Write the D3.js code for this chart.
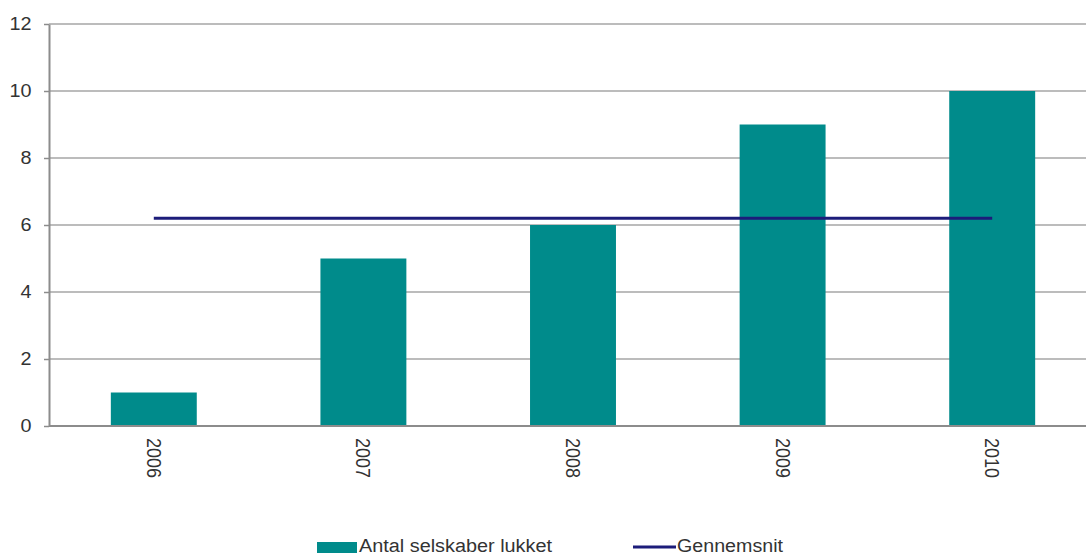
<!DOCTYPE html>
<html>
<head>
<meta charset="utf-8">
<script src="https://cdn.jsdelivr.net/npm/d3@7"></script>
<style>
  body { margin: 0; background: #fff; }
  svg { display: block; font-family: "Liberation Sans", Arial, sans-serif; }
</style>
</head>
<body>
<svg id="chart"></svg>
<script>
// data
const years = ["2006", "2007", "2008", "2009", "2010"];
const closed = [1, 5, 6, 9, 10];
const average = [6.2, 6.2, 6.2, 6.2, 6.2];
const yTicks = [0, 2, 4, 6, 8, 10, 12];
const seriesNames = ["Antal selskaber lukket", "Gennemsnit"];

const width = 1086;
const height = 557;
const marginLeft = 49;
const marginTop = 24;
const plotBottom = 426;
const plotRight = 1097; // plot runs off the right edge like the original

const barColor = "#008b8b";
const lineColor = "#1c1c7a";
const textColor = "#333";

const svg = d3.select("#chart")
  .attr("width", width)
  .attr("height", height)
  .attr("viewBox", `0 0 ${width} ${height}`);

const x = d3.scaleBand()
  .domain(years)
  .range([marginLeft, plotRight])
  .paddingInner(0.59)
  .paddingOuter(0.295);

const y = d3.scaleLinear()
  .domain([0, 12])
  .range([plotBottom, marginTop]);

// gridlines
svg.append("g")
  .selectAll("line")
  .data(yTicks.filter(d => d > 0))
  .join("line")
    .attr("x1", marginLeft)
    .attr("x2", width)
    .attr("y1", d => y(d))
    .attr("y2", d => y(d))
    .attr("stroke", "#a6a6a6")
    .attr("stroke-width", 1.5);

// bars
svg.append("g")
  .attr("fill", barColor)
  .selectAll("rect")
  .data(years.map((yr, i) => ({ yr, v: closed[i] })))
  .join("rect")
    .attr("x", d => x(d.yr))
    .attr("y", d => y(d.v))
    .attr("width", x.bandwidth())
    .attr("height", d => y(0) - y(d.v));

// average line
const line = d3.line()
  .x((d, i) => x(years[i]) + x.bandwidth() / 2)
  .y(d => y(d));

svg.append("path")
  .datum(average)
  .attr("d", line)
  .attr("fill", "none")
  .attr("stroke", lineColor)
  .attr("stroke-width", 3);

// y axis
const yAxis = svg.append("g")
  .attr("transform", `translate(${marginLeft},0)`)
  .call(d3.axisLeft(y).tickValues(yTicks).tickSize(5).tickSizeOuter(0).tickPadding(11));
yAxis.select(".domain").attr("stroke", "#8c8c8c").attr("stroke-width", 2);
yAxis.selectAll(".tick line").attr("stroke", "#8c8c8c").attr("stroke-width", 1.5);
yAxis.selectAll("text")
  .attr("font-size", 18)
  .attr("fill", textColor)
  .attr("transform", "scale(1.1,1)");

// x axis
const xAxis = svg.append("g")
  .attr("transform", `translate(0,${plotBottom})`)
  .call(d3.axisBottom(x).tickSize(0).tickSizeOuter(0));
xAxis.select(".domain")
  .attr("d", `M${marginLeft},0H${width}`)
  .attr("stroke", "#8c8c8c")
  .attr("stroke-width", 2);
xAxis.selectAll("text")
  .attr("font-size", 18)
  .attr("fill", textColor)
  .attr("text-anchor", "start")
  .attr("dy", "0.35em")
  .attr("transform", "translate(0,12) rotate(90) scale(1,1.1)")
  .attr("x", 0)
  .attr("y", 0);

// legend
const legend = svg.append("g").attr("font-size", 18);
legend.append("rect")
  .attr("x", 317).attr("y", 542).attr("width", 40).attr("height", 11)
  .attr("fill", barColor);
legend.append("text")
  .attr("x", 359).attr("y", 552)
  .attr("fill", textColor)
  .attr("textLength", 193)
  .attr("lengthAdjust", "spacingAndGlyphs")
  .text(seriesNames[0]);
legend.append("line")
  .attr("x1", 633).attr("x2", 676).attr("y1", 547).attr("y2", 547)
  .attr("stroke", lineColor).attr("stroke-width", 3);
legend.append("text")
  .attr("x", 677).attr("y", 552)
  .attr("fill", textColor)
  .attr("textLength", 106)
  .attr("lengthAdjust", "spacingAndGlyphs")
  .text(seriesNames[1]);
</script>
</body>
</html>
